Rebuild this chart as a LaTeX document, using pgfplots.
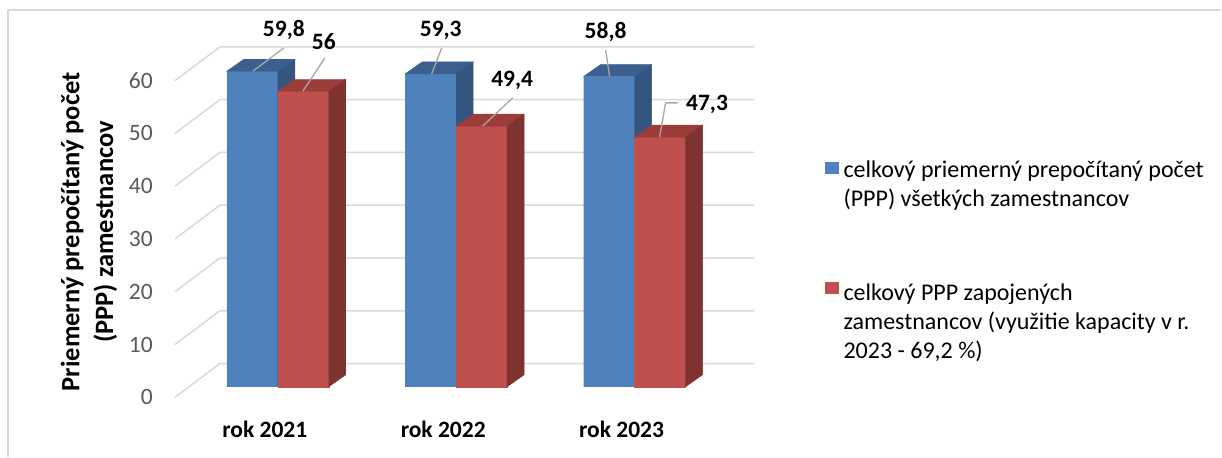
\documentclass[border=0pt]{standalone}
\usepackage{fontspec}
\setmainfont{Carlito}
\usepackage{pgfplots}
\usepackage{pgfplotstable}
\pgfplotsset{compat=1.18}

\definecolor{blueF}{HTML}{4F81BD}
\definecolor{blueT}{HTML}{3B5F8F}
\definecolor{blueS}{HTML}{33557F}
\definecolor{redF}{HTML}{C0504D}
\definecolor{redT}{HTML}{9C3D3A}
\definecolor{redS}{HTML}{7F3331}
\definecolor{gridc}{HTML}{D9D9D9}
\definecolor{tickc}{HTML}{595959}
\definecolor{leadc}{HTML}{A6A6A6}

\newcommand\tickfont{\fontsize{23.5}{28}\selectfont}
\newcommand\catfont{\fontsize{23.5}{28}\selectfont\bfseries}
\newcommand\lblfont{\fontsize{23.5}{28}\selectfont\bfseries}
\newcommand\legfont{\fontsize{24}{29}\selectfont}
\newcommand\ylabfont{\fontsize{26.5}{34}\selectfont\bfseries}

\pgfdeclareplotmark{empty3d}{}

% offsets in pt, relative to group centre / bar top
\pgfplotstableread{
x  v     lx     ly    sx     ex     ey    fx     fy
0  59.8  6      41.3  -25    6      23.3  6      23.3
1  59.3  -15.5  43.9  -24.5  -14.5  25.9  -14.5  25.9
2  58.8  -29    44.5  -25    -29    26.5  -29    26.5
}\alldata
\pgfplotstableread{
x  v     lx     ly    sx     ex     ey    fx     fy
0  56    46     49.3  25     47     33.3  47     33.3
1  49.4  56     46.2  26.5   56.5   28.2  56.5   28.2
2  47.3  72.5   33.3  25     31     34.3  43     34.3
}\engdata

\pgfplotsset{
  sqleg/.style={legend image code/.code={\fill[##1,draw=none] (0pt,{-1pt+#1}) rectangle (14pt,{11pt+#1});}},
  faces/.style={forget plot, scatter, only marks, mark=empty3d,
    visualization depends on={\thisrow{v} \as \h},
    visualization depends on={\thisrow{lx} \as \lx},
    visualization depends on={\thisrow{ly} \as \ly},
    visualization depends on={\thisrow{sx} \as \sx},
    visualization depends on={\thisrow{ex} \as \ex},
    visualization depends on={\thisrow{ey} \as \ey},
    visualization depends on={\thisrow{fx} \as \fx},
    visualization depends on={\thisrow{fy} \as \fy},
    scatter/@post marker code/.code={}},
}
\newcommand\barlabel{%
  \draw[leadc, line width=1.3pt] ({\sx pt},0pt) -- ({\ex pt},{\ey pt}) -- ({\fx pt},{\fy pt});
  \node[font=\lblfont, inner sep=0pt] at ({\lx pt},{\ly pt}) {\pgfmathprintnumber{\h}};}

\begin{document}
\begin{tikzpicture}
\begin{axis}[
  x=178.5pt, y=5.28pt,
  xmin=-0.577, xmax=2.7, ymin=-2, ymax=66,
  clip=false,
  axis line style={draw=none},
  major tick length=0pt,
  /pgf/number format/assume math mode=true,
  /pgf/number format/use comma,
  /pgf/number format/1000 sep={},
  ytick={0,10,...,60},
  yticklabel style={font=\tickfont, text=tickc, anchor=east, inner sep=0pt, xshift=-22pt, yshift=-10.5pt},
  xtick={0,1,2},
  xticklabels={rok 2021,rok 2022,rok 2023},
  xticklabel style={font=\catfont, anchor=center, inner sep=0pt, yshift=-32.5pt, xshift=-13pt},
  ylabel={Priemerný prepočítaný počet\\(PPP) zamestnancov},
  ylabel style={font=\ylabfont, align=center, anchor=center, at={(axis description cs:-0.147,0.461)}},
  legend cell align=left,
  legend style={at={(axis description cs:1.111,0.659)}, anchor=north west, draw=none, fill=none,
    inner sep=0pt, font=\legfont, row sep=74pt, column sep=5pt,
    nodes={inner sep=0pt, align=left}},
]
\pgfplotsinvokeforeach{0,10,...,60}{
  \draw[gridc, line width=1.5pt] (axis cs:-0.577,{#1-2}) -- (axis cs:-0.325,{#1+4.4}) -- (axis cs:2.672,{#1+4.4});
}
\addplot[ybar, bar width=51pt, bar shift=-25.5pt, fill=blueF, draw=none, sqleg=12pt] table[x=x,y=v] {\alldata};
\addlegendentry{celkový priemerný prepočítaný počet\\(PPP) všetkých zamestnancov}
\addplot[faces, scatter/@pre marker code/.code={%
    \fill[blueT] (-51pt,0pt) -- (0pt,0pt) -- (17pt,12pt) -- (-34pt,12pt) -- cycle;
    \fill[blueS] (0pt,0pt) -- (17pt,12pt) -- (17pt,{12pt-\h*5.28pt}) -- (0pt,{-\h*5.28pt}) -- cycle;
    \barlabel}] table[x=x,y=v] {\alldata};
\addplot[ybar, bar width=51pt, bar shift=25.5pt, fill=redF, draw=none, sqleg=28.5pt] table[x=x,y=v] {\engdata};
\addlegendentry{celkový PPP zapojených\\zamestnancov (využitie kapacity v r.\\2023 - 69,2 \%)}
\addplot[faces, scatter/@pre marker code/.code={%
    \fill[redF] (0pt,0pt) rectangle (51pt,{-\h*5.28pt});
    \fill[redT] (0pt,0pt) -- (51pt,0pt) -- (68pt,12pt) -- (17pt,12pt) -- cycle;
    \fill[redS] (51pt,0pt) -- (68pt,12pt) -- (68pt,{12pt-\h*5.28pt}) -- (51pt,{-\h*5.28pt}) -- cycle;
    \barlabel}] table[x=x,y=v] {\engdata};
\end{axis}
\draw[gridc, line width=1.5pt] (-167pt,-59.44pt) -- (-167pt,387.56pt) -- (1047pt,387.56pt);
\path (-175pt,-59.44pt) rectangle (1047pt,397.56pt);
\end{tikzpicture}
\end{document}
